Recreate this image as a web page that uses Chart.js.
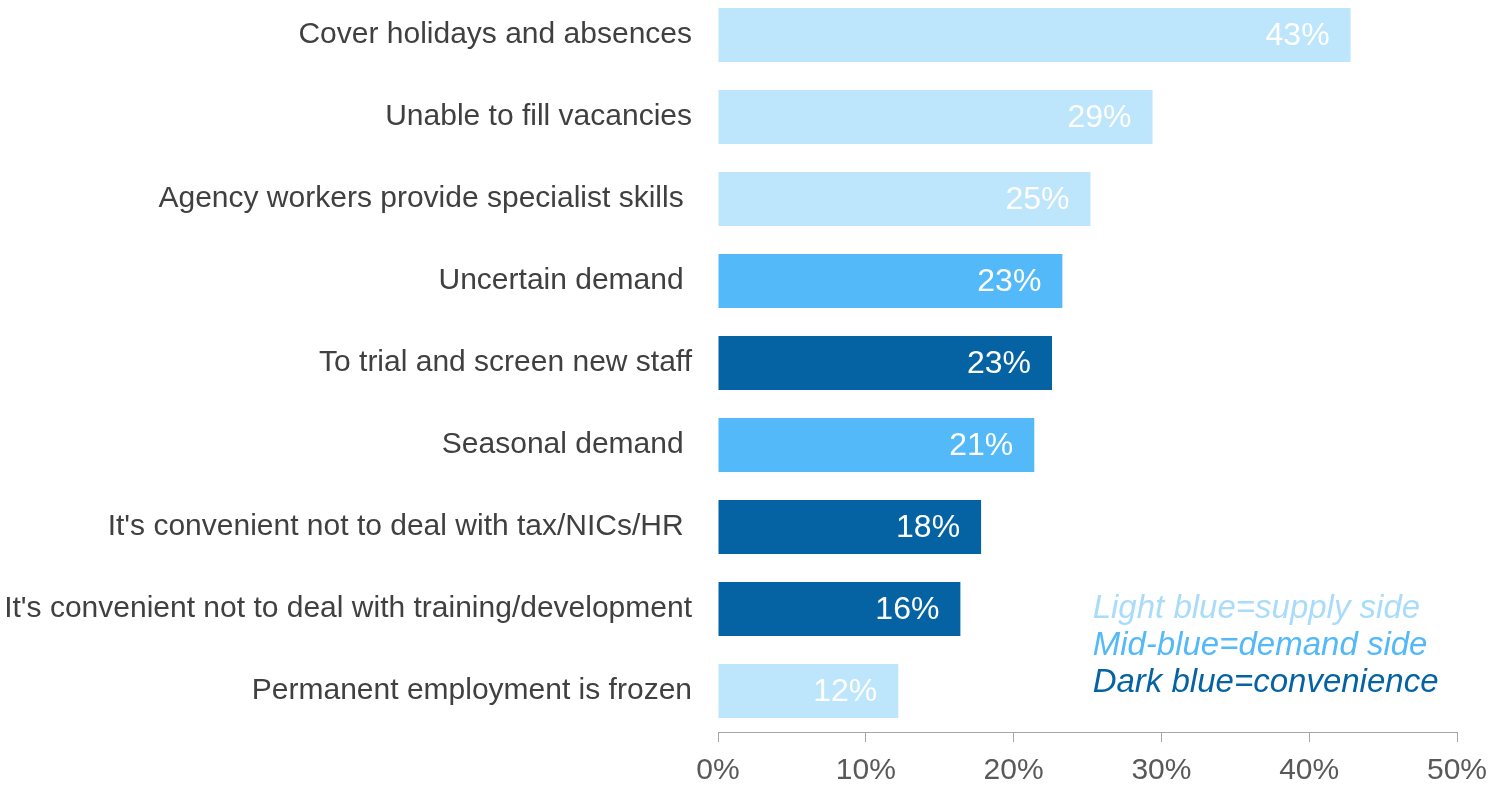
<!DOCTYPE html>
<html>
<head>
<meta charset="utf-8">
<script src="https://cdn.jsdelivr.net/npm/chart.js@4.4.1/dist/chart.umd.min.js"></script>
<style>
  body { margin: 0; background: #fff; }
  #wrap { position: relative; width: 1492px; height: 786px; overflow: hidden; }
  #inner { position: absolute; left: 0; top: -6px; width: 1492px; height: 792px; }
</style>
</head>
<body>
<div id="wrap"><div id="inner"><canvas id="theChart"></canvas></div></div>
<script>
// reasons for using agency workers, % of employers
const categories = [
  "Cover holidays and absences",
  "Unable to fill vacancies",
  "Agency workers provide specialist skills ",
  "Uncertain demand ",
  "To trial and screen new staff",
  "Seasonal demand ",
  "It's convenient not to deal with tax/NICs/HR ",
  "It's convenient not to deal with training/development",
  "Permanent employment is frozen"
];
const values = [42.8, 29.4, 25.2, 23.3, 22.6, 21.4, 17.8, 16.4, 12.2];
const groups = ["supply", "supply", "supply", "demand", "convenience", "demand", "convenience", "convenience", "supply"];
const xTicks = [0, 10, 20, 30, 40, 50];
const legendLines = [
  "Light blue=supply side",
  "Mid-blue=demand side",
  "Dark blue=convenience"
];
const legendGroups = ["supply", "demand", "convenience"];

const groupColors = {
  supply: '#bde5fb',
  demand: '#53b9f9',
  convenience: '#0563a3'
};
const legendColors = {
  supply: '#a9dcfb',
  demand: '#53b9f9',
  convenience: '#0563a3'
};

const FONT = "'Liberation Sans', Arial, sans-serif";

// white % labels inside the end of each bar
const barLabels = {
  id: 'barLabels',
  afterDatasetsDraw(chart) {
    const ctx = chart.ctx;
    const meta = chart.getDatasetMeta(0);
    ctx.save();
    ctx.font = '32px ' + FONT;
    ctx.fillStyle = '#ffffff';
    ctx.textAlign = 'right';
    ctx.textBaseline = 'middle';
    meta.data.forEach((bar, i) => {
      ctx.fillText(Math.round(values[i]) + '%', bar.x - 21, bar.y + 1);
    });
    ctx.restore();
  }
};

// colour key in the lower right
const colourKey = {
  id: 'colourKey',
  afterDraw(chart) {
    const ctx = chart.ctx;
    const x = chart.scales.x.getPixelForValue(25.35);
    const bottom = chart.chartArea.bottom - 40;
    ctx.save();
    ctx.font = 'italic 33px ' + FONT;
    ctx.textAlign = 'left';
    ctx.textBaseline = 'alphabetic';
    legendLines.forEach((t, i) => {
      ctx.fillStyle = legendColors[legendGroups[i]];
      ctx.fillText(t, x, bottom - (legendLines.length - 1 - i) * 37);
    });
    ctx.restore();
  }
};

const chart = document.getElementById('theChart').getContext('2d');
new Chart(chart, {
  type: 'bar',
  data: {
    labels: categories,
    datasets: [{
      data: values,
      backgroundColor: groups.map(g => groupColors[g]),
      borderWidth: 0,
      barPercentage: 0.66,
      categoryPercentage: 1
    }]
  },
  options: {
    indexAxis: 'y',
    responsive: true,
    maintainAspectRatio: false,
    animation: false,
    layout: { padding: { top: 0, right: 35, left: 0, bottom: 0 } },
    plugins: {
      legend: { display: false },
      tooltip: { enabled: false }
    },
    scales: {
      y: {
        grid: { display: false, drawTicks: false },
        border: { display: false },
        ticks: {
          padding: 26,
          color: '#404040',
          font: { family: FONT, size: 30 }
        },
        afterFit(scale) {
          scale.width = 718;
          scale.paddingTop = 0;
          scale.paddingBottom = 0;
        }
      },
      x: {
        min: 0,
        max: 50,
        afterBuildTicks(scale) { scale.ticks = xTicks.map(v => ({ value: v })); },
        grid: {
          drawOnChartArea: false,
          drawTicks: true,
          tickLength: 10,
          color: '#a6a6a6'
        },
        border: { display: true, color: '#a6a6a6', width: 1 },
        ticks: {
          padding: 11,
          color: '#595959',
          font: { family: FONT, size: 30 },
          maxRotation: 0,
          callback: v => v + '%'
        },
        afterFit(scale) {
          scale.height = 54;
          scale.paddingRight = 0;
        }
      }
    }
  },
  plugins: [barLabels, colourKey]
});
</script>
</body>
</html>
